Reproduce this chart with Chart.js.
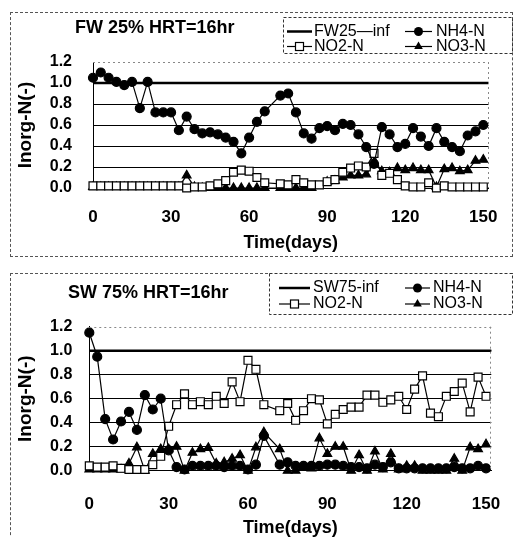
<!DOCTYPE html>
<html><head><meta charset="utf-8">
<script src="https://cdn.jsdelivr.net/npm/chart.js@4/dist/chart.umd.min.js"></script>
<style>
html,body{margin:0;padding:0;background:#fff;overflow:hidden;width:524px;height:537px;}
.frame{position:absolute;border:1px dashed #555;}
canvas{position:absolute;left:0;}
</style></head><body>
<div class="frame" style="left:10px;top:12px;width:501px;height:243px;"></div>
<div class="frame" style="left:10px;top:273px;width:502px;height:300px;border-right:none;"></div>
<canvas id="c1" width="524" height="262" style="top:0px"></canvas>
<canvas id="c2" width="524" height="275" style="top:265px"></canvas>
<script>
// ---- data ----
const days = [0,3,6,9,12,15,18,21,24,27,30,33,36,39,42,45,48,51,54,57,60,63,66,69,72,75,78,81,84,87,90,93,96,99,102,105,108,111,114,117,120,123,126,129,132,135,138,141,144,147,150];
const xTicks = [0,30,60,90,120,150];
const yTicks = [0,0.2,0.4,0.6,0.8,1.0,1.2];

const fwTitle = 'FW 25% HRT=16hr';
const fwLabels = ['FW25\u2014inf','NH4-N','NO2-N','NO3-N'];
const fwInf = 1.0;
const fwNH4 = [1.05,1.10,1.05,1.01,0.98,1.01,0.76,1.01,0.72,0.72,0.72,0.55,0.68,0.56,0.52,0.53,0.51,0.48,0.44,0.33,0.48,0.63,0.73,null,0.88,0.90,0.72,0.52,0.47,0.57,0.59,0.55,0.61,0.60,0.51,0.39,0.23,0.58,0.51,0.39,0.42,0.57,0.49,0.40,0.57,0.44,0.39,0.35,0.50,0.54,0.60];
const fwNO2 = [0.02,0.02,0.02,0.02,0.02,0.02,0.02,0.02,0.02,0.02,0.02,0.02,0.0,0.01,0.01,0.02,0.04,0.07,0.15,0.17,0.16,0.10,0.05,null,0.04,0.03,0.08,0.05,0.03,0.03,0.06,0.08,0.15,0.19,0.21,0.20,0.33,0.12,0.14,0.08,0.02,0.01,0.01,0.05,0.0,0.02,0.01,0.01,0.01,0.01,0.01];
const fwNO3 = [0.01,0.01,0.01,0.01,0.01,0.01,0.01,0.01,0.01,0.01,0.01,0.01,0.12,0.01,0.0,0.0,0.0,0.0,0.0,0.0,0.0,0.0,0.0,null,0.0,0.0,0.0,0.0,0.0,null,0.06,0.07,0.10,0.12,0.12,0.13,0.24,0.16,0.15,0.19,0.17,0.19,0.17,0.17,0.01,0.18,0.19,0.16,0.17,0.26,0.27];

const swTitle = 'SW 75% HRT=16hr';
const swLabels = ['SW75-inf','NH4-N','NO2-N','NO3-N'];
const swInf = 1.0;
const swNH4 = [1.15,0.95,0.43,0.26,0.41,0.49,0.34,0.63,0.51,0.60,0.17,0.03,0.01,0.04,0.04,0.04,0.04,0.03,0.04,0.04,0.01,0.05,0.29,null,0.05,0.07,0.04,0.04,0.04,0.04,0.05,0.05,0.04,0.03,0.03,0.02,0.05,0.03,0.07,0.02,0.02,0.02,0.02,0.02,0.02,0.02,0.03,0.02,0.02,0.04,0.02];
const swNO2 = [0.04,0.03,0.03,0.04,0.02,0.01,0.01,0.01,0.05,0.12,0.37,0.55,0.64,0.55,0.575,0.55,0.62,0.56,0.74,0.575,0.92,0.845,0.55,null,0.50,0.56,0.42,0.50,0.60,0.59,0.39,0.47,0.51,0.53,0.53,0.63,0.63,0.57,0.59,0.62,0.51,0.68,0.79,0.48,0.45,0.62,0.66,0.73,0.49,0.78,0.62];
const swNO3 = [0.01,0.01,0.01,0.01,0.01,0.06,0.195,0.0,0.14,0.18,0.18,0.20,0.0,0.15,0.18,0.19,0.06,0.07,0.10,0.13,0.0,0.195,0.32,null,0.18,0.0,0.0,0.03,0.02,0.27,0.14,0.20,0.20,0.0,0.13,0.0,0.16,0.01,0.14,0.01,0.04,0.04,0.0,0.0,0.0,0.0,0.10,0.0,0.195,0.18,0.22];

const FONT = '"Liberation Sans", Arial, sans-serif';
const XMAX = 152;

function pts(vals){ return days.map((d,i)=>({x:d,y:vals[i]})); }

function drawMarker(ctx, kind, x, y){
  ctx.save();
  ctx.setLineDash([]);
  ctx.lineWidth = 1.2; ctx.strokeStyle = '#000'; ctx.fillStyle = '#000';
  if (kind === 'circle'){ ctx.beginPath(); ctx.arc(x,y,4.5,0,Math.PI*2); ctx.fill(); }
  else if (kind === 'rect'){ ctx.fillStyle='#fff'; ctx.fillRect(x-4,y-4,8,8); ctx.strokeRect(x-4,y-4,8,8); }
  else if (kind === 'triangle'){
    const r=5; ctx.beginPath();
    ctx.moveTo(x, y-r); ctx.lineTo(x+r*0.866, y+r*0.5); ctx.lineTo(x-r*0.866, y+r*0.5); ctx.closePath(); ctx.fill();
  }
  ctx.restore();
}

const deco = {
  id:'deco',
  afterDraw(chart, args, o){
    const ctx = chart.ctx, a = chart.chartArea;
    ctx.save();
    ctx.strokeStyle='#888'; ctx.lineWidth=1; ctx.setLineDash([2,3]);
    ctx.beginPath();
    ctx.moveTo(a.left, Math.round(a.top)+0.5); ctx.lineTo(a.right, Math.round(a.top)+0.5);
    ctx.moveTo(Math.round(a.right)-0.5, a.top); ctx.lineTo(Math.round(a.right)-0.5, a.bottom);
    ctx.stroke();
    ctx.setLineDash([]);
    ctx.fillStyle='#000'; ctx.font='bold 18px '+FONT; ctx.textBaseline='middle'; ctx.textAlign='left';
    ctx.fillText(o.title, o.tx, o.ty);
    ctx.fillStyle='#fff'; ctx.fillRect(o.lx, o.ly, o.lw, o.lh);
    ctx.setLineDash([3,2]); ctx.strokeStyle='#333'; ctx.lineWidth=1;
    ctx.strokeRect(o.lx+0.5, o.ly+0.5, o.lw, o.lh);
    ctx.setLineDash([]);
    ctx.font='16px '+FONT;
    chart.data.datasets.forEach((ds,i)=>{
      const col=i%2, row=Math.floor(i/2);
      const x0=o.mx0[col], x1=o.mx1[col], y=o.ry[row];
      ctx.strokeStyle='#000'; ctx.lineWidth = ds.borderWidth;
      ctx.beginPath(); ctx.moveTo(x0,y); ctx.lineTo(x1,y); ctx.stroke();
      if (ds.pointRadius>0) drawMarker(ctx, ds.pointStyle, (x0+x1)/2, y);
      ctx.fillStyle='#000';
      ctx.fillText(ds.label, o.tx0[col], y);
    });
    ctx.restore();
  }
};

function makeChart(id, labels, title, inf, nh4, no2, no3, L){
  const base = {borderColor:'#000', borderWidth:1.2, showLine:true, spanGaps:true, clip:false, pointBorderColor:'#000', pointBorderWidth:1.2};
  return new Chart(document.getElementById(id), {
    type:'scatter',
    data:{datasets:[
      {label:labels[0], data:[{x:0,y:inf},{x:XMAX,y:inf}], borderColor:'#000', borderWidth:2.5, showLine:true, pointRadius:0, clip:false},
      Object.assign({label:labels[1], data:pts(nh4), pointStyle:'circle', pointRadius:4.5, pointBackgroundColor:'#000'}, base),
      Object.assign({label:labels[2], data:pts(no2), pointStyle:'rect', pointRadius:5.6, pointBackgroundColor:'#fff'}, base),
      Object.assign({label:labels[3], data:pts(no3), pointStyle:'triangle', pointRadius:5, pointBackgroundColor:'#000'}, base),
    ]},
    options:{
      responsive:false, animation:false, devicePixelRatio:1,
      layout:{padding:{left:0, top:L.top, right:L.right, bottom:0}},
      plugins:{legend:{display:false}, tooltip:{enabled:false}, deco:L.deco},
      elements:{line:{tension:0}},
      scales:{
        x:{type:'linear', min:0, max:XMAX,
          afterBuildTicks:s=>{s.ticks = xTicks.map(v=>({value:v}));},
          afterFit:s=>{s.height=L.xh;},
          ticks:{color:'#000', font:{family:FONT, size:17, weight:'bold'}, padding:L.xpad, maxRotation:0, autoSkip:false},
          grid:{display:false, drawTicks:false},
          border:{display:true, color:'#000', width:1},
          title:{display:true, text:'Time(days)', color:'#000', font:{family:FONT, size:18, weight:'bold'}, padding:{top:0,bottom:L.xtpad}}
        },
        y:{type:'linear', min:0, max:1.2,
          afterBuildTicks:s=>{s.ticks = yTicks.map(v=>({value:v}));},
          afterFit:s=>{s.width=L.yw;},
          ticks:{color:'#000', font:{family:FONT, size:16, weight:'bold'}, padding:L.ypad, autoSkip:false, callback:v=>v.toFixed(1)},
          grid:{drawTicks:false, lineWidth:1, color:c=>{const v=c.tick&&c.tick.value; return (v>0.1 && v<1.1)?'#000':'rgba(0,0,0,0)';}},
          border:{display:true, color:'#000', width:1},
          title:{display:true, text:'Inorg-N(-)', color:'#000', font:{family:FONT, size:19, weight:'bold'}, padding:{top:14,bottom:0}}
        }
      }
    },
    plugins:[deco]
  });
}

makeChart('c1', fwLabels, fwTitle, fwInf, fwNH4, fwNO2, fwNO3, {
  top:62, right:35.5, xh:74, yw:93, xpad:19.5, ypad:21, xtpad:8,
  deco:{title:fwTitle, tx:75, ty:28.5, lx:283, ly:17, lw:229, lh:36, mx0:[287,405], mx1:[312,432], tx0:[314,436], ry:[31.5,46.5]}
});
makeChart('c2', swLabels, swTitle, swInf, swNH4, swNO2, swNO3, {
  top:61.7, right:30.4, xh:69.3, yw:89.3, xpad:23.4, ypad:17, xtpad:1,
  deco:{title:swTitle, tx:68, ty:28.5, lx:269, ly:8, lw:243, lh:41, mx0:[279,405], mx1:[310,430], tx0:[313,433], ry:[23,39]}
});
</script>
</body></html>
